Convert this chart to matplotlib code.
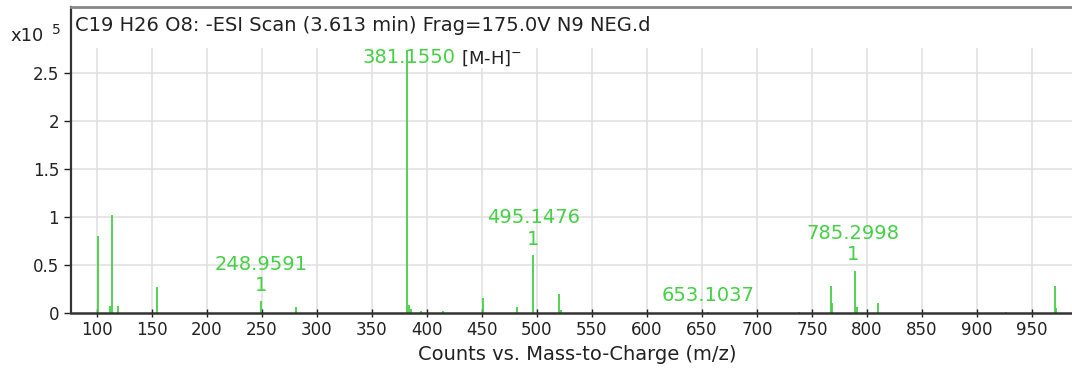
import numpy as np
import matplotlib.pyplot as plt

plt.rcParams['font.family'] = ['DejaVu Sans']

# peak list (m/z, intensity x10^5)
mz = [101.2, 111.5, 113.4, 119.4, 154.8, 249.5, 281.0, 381.8, 383.5, 385.5,
      395.0, 415.0, 451.0, 481.5, 496.5, 520.0, 522.0, 655.5, 738.0,
      767.0, 768.0, 789.5, 790.5, 810.0, 926.0, 970.5, 971.5]
inten = [0.80, 0.07, 1.02, 0.07, 0.27, 0.12, 0.06, 2.74, 0.08, 0.04,
         0.02, 0.02, 0.16, 0.06, 0.60, 0.20, 0.03, 0.01, 0.01,
         0.28, 0.10, 0.44, 0.06, 0.10, 0.01, 0.28, 0.05]

# annotated peaks: position, intensity, label
ann_mz = [249.5, 496.5, 655.5, 787.0]
ann_int = [0.12, 0.60, 0.01, 0.44]
ann_txt = ['248.9591\n1', '495.1476\n1', '653.1037', '785.2998\n1']

xticks = np.arange(100, 1000, 50)
yticks = [0, 0.5, 1, 1.5, 2, 2.5]
ytick_labels = ['0', '0.5', '1', '1.5', '2', '2.5']

green = '#45d045'
dark = '#222222'
W, H = 1072, 369
fig = plt.figure(figsize=(W / 100, H / 100), dpi=100)
ax = fig.add_axes([71 / W, (H - 313) / H, 1 - 71 / W, (313 - 7) / H])

ax.set_xlim(76.4, 986.4)
ax.set_ylim(0, 3.19)

# grid: vertical lines stop below the title strip
ax.vlines(xticks, 0, 2.76, color='#e2e2e2', lw=1.2, zorder=0)
for y in yticks[1:]:
    ax.axhline(y, color='#e2e2e2', lw=1.2, zorder=0)

ax.vlines(mz, 0, inten, color=green, lw=1.3, zorder=2)

ax.set_xticks(xticks)
ax.set_yticks(yticks)
ax.set_yticklabels(ytick_labels)
ax.tick_params(axis='both', labelsize=12, colors=dark, length=5, width=1)
ax.tick_params(axis='x', direction='inout', length=6, pad=3)

ax.spines['right'].set_visible(False)
ax.spines['left'].set_color('#333333')
ax.spines['left'].set_linewidth(1.6)
ax.spines['bottom'].set_color('#333333')
ax.spines['bottom'].set_linewidth(1.8)
ax.spines['top'].set_color('#888888')
ax.spines['top'].set_linewidth(2)

ax.text(0.004, 0.941, 'C19 H26 O8: -ESI Scan (3.613 min) Frag=175.0V N9 NEG.d',
        transform=ax.transAxes, fontsize=14, color=dark, va='center')

# base peak label
ax.text(384, 2.66, '381.1550', color=green, fontsize=14, ha='center', va='center')
ax.text(459, 2.66, '[M-H]$^{-}$', color=dark, fontsize=13, ha='center', va='center',
        bbox=dict(facecolor='white', edgecolor='none', pad=0.5))

for x, y, t in zip(ann_mz, ann_int, ann_txt):
    ax.text(x, y + 0.07, t, color=green, fontsize=14, ha='center', va='bottom',
            linespacing=1.15)

fig.text(10 / W, 1 - 36 / H, 'x10', fontsize=13, color=dark, va='center')
fig.text(52 / W, 1 - 30 / H, '5', fontsize=10, color=dark, va='center')
fig.text(577 / W, 1 - 354 / H, 'Counts vs. Mass-to-Charge (m/z)', fontsize=14,
         color=dark, ha='center', va='center')

fig.savefig('out.png', dpi=100)
